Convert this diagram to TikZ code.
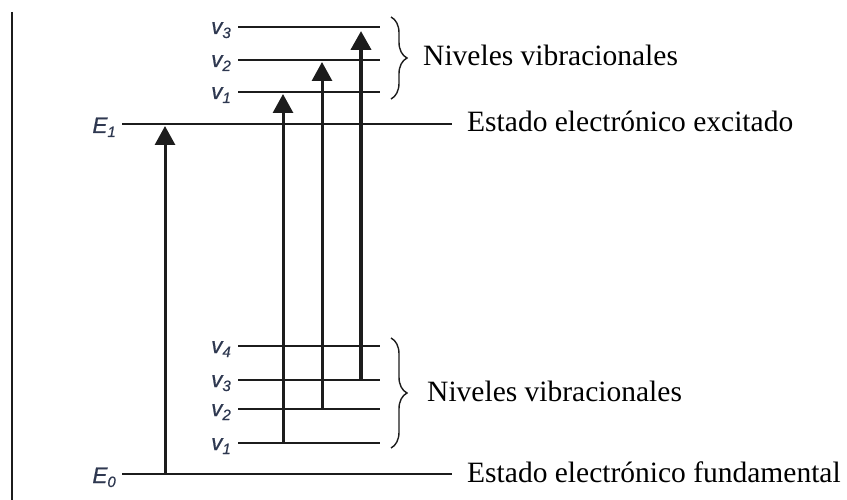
\documentclass[tikz,border=0pt]{standalone}
\usepackage{fontspec}
\setmainfont{Liberation Serif}
\newfontface\lvlfont{Liberation Sans Italic}[FakeBold=0.7]
\usepackage{xcolor}
\usepackage{tikz}
\usetikzlibrary{arrows.meta,calc,positioning,decorations.pathreplacing}
\definecolor{levelgray}{HTML}{1C1C1C}
\definecolor{labelnavy}{HTML}{2E3850}
\tikzset{
  axisline/.style={levelgray,line width=2pt},
  state/.style={levelgray,line width=2.7pt},
  vib/.style={levelgray,line width=2.7pt},
  transition/.style={-{Triangle[width=20pt,length=19pt]},levelgray,line width=3pt,shorten >=2pt},
  levellabel/.style={anchor=base east,inner sep=0pt,labelnavy,font=\lvlfont\fontsize{22.5}{22}\selectfont},
  caption/.style={anchor=base west,inner sep=0pt,font=\fontsize{29.5}{30}\selectfont},
  vibbrace/.style={decorate,decoration={brace,amplitude=16pt},levelgray,line width=1.4pt}
}
\newcommand{\lvlsub}[2]{#1\raisebox{-4pt}{\fontsize{15}{15}\selectfont#2}}
\begin{document}
\begin{tikzpicture}[x=1pt,y=-1pt]
\useasboundingbox (0,0) rectangle (847,500);
\draw[axisline] (12,12)--(12,500);
% electronic states
\draw[state] (122,124) coordinate (E1a) -- (452,124) coordinate (E1b);
\draw[state] (122,474) coordinate (E0a) -- (452,474) coordinate (E0b);
\node[levellabel] (E1lbl) at ($(E1a)+(-6,9)$) {\lvlsub{E}{1}};
\node[levellabel] (E0lbl) at ($(E0a)+(-6,9)$) {\lvlsub{E}{0}};
\node[caption] (exc) at ($(E1b)+(15,8)$) {Estado electrónico excitado};
\node[caption] (fund) at ($(E0b)+(15,8)$) {Estado electrónico fundamental};
% vibrational levels
\foreach \n/\y in {1/443,2/409,3/380,4/346}{
  \draw[vib] (238,\y) coordinate (g\n) -- (380,\y) coordinate (gr\n);
  \node[levellabel] (gl\n) at ($(g\n)+(-7,7)$) {\lvlsub{v}{\n}};
}
\foreach \n/\y in {1/92,2/60,3/27}{
  \draw[vib] (238,\y) coordinate (x\n) -- (380,\y) coordinate (xr\n);
  \node[levellabel] (xl\n) at ($(x\n)+(-7,7)$) {\lvlsub{v}{\n}};
}
\draw[vibbrace] (391,17) coordinate (ub1) -- (391,99) coordinate (ub2);
\draw[vibbrace] (391,338) coordinate (lb1) -- (391,448) coordinate (lb2);
\node[caption] (nvx) at ($(ub1)!0.5!(ub2)+(32,8)$) {Niveles vibracionales};
\node[caption] (nvg) at ($(lb1)!0.5!(lb2)+(36,8)$) {Niveles vibracionales};
% transitions
\coordinate (t0) at (165,0);
\coordinate (t1) at (283,0);
\coordinate (t2) at (322,0);
\coordinate (t3) at (361,0);
\draw[transition] (E0a -| t0) -- (E1a -| t0);
\draw[transition] (g1 -| t1) -- (x1 -| t1);
\draw[transition] (g2 -| t2) -- (x2 -| t2);
\draw[transition,line width=4.2pt,shorten >=4pt] (g3 -| t3) -- (x3 -| t3);
\end{tikzpicture}
\end{document}
